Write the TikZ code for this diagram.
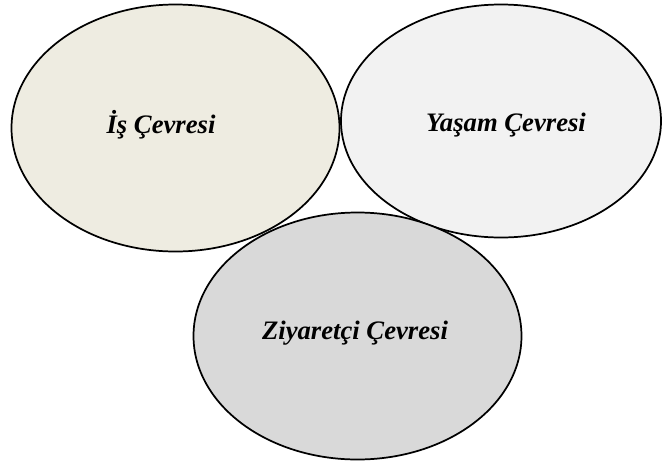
\documentclass[tikz,border=0pt]{standalone}
\usepackage{fontspec}
\setmainfont{Liberation Serif}
\usetikzlibrary{shapes.geometric}
\definecolor{tanfill}{HTML}{EEECE1}
\definecolor{lightfill}{HTML}{F2F2F2}
\definecolor{greyfill}{HTML}{D9D9D9}
\tikzset{
  circle area/.style={ellipse, draw=black, line width=1.3pt, inner sep=0pt, outer sep=0pt},
  area label/.style={inner sep=0pt, font=\fontsize{20}{24}\selectfont\bfseries\itshape}
}
\begin{document}
\begin{tikzpicture}[x=0.75pt, y=-0.75pt]
  \useasboundingbox (0,0) rectangle (662,465);
  % the three surroundings, later ones drawn over earlier ones
  \node[circle area, fill=tanfill, minimum width=328pt*0.75, minimum height=247pt*0.75] (is) at (175.5,128) {};
  \node[circle area, fill=lightfill, minimum width=320pt*0.75, minimum height=233pt*0.75] (yasam) at (501,121) {};
  \node[circle area, fill=greyfill, minimum width=328pt*0.75, minimum height=247pt*0.75] (ziyaretci) at (357.5,336) {};
  % labels
  \node[area label] (isT) at (161,125) {İş Çevresi};
  \node[area label] (yasamT) at (506,125) {Yaşam Çevresi};
  \node[area label] (ziyaretciT) at (355,333) {Ziyaretçi Çevresi};
\end{tikzpicture}
\end{document}
